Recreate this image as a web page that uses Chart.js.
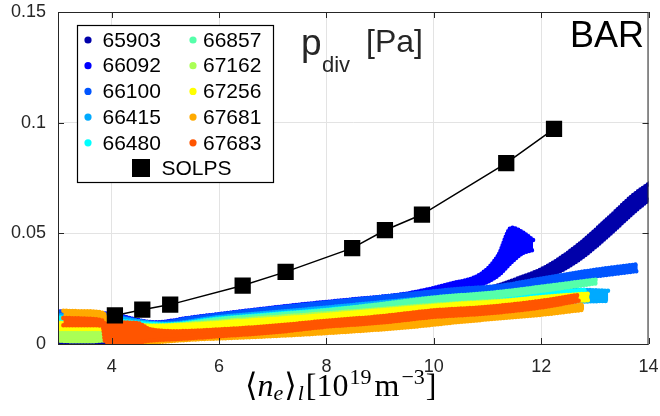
<!DOCTYPE html>
<html>
<head>
<meta charset="utf-8">
<script src="https://cdn.jsdelivr.net/npm/chart.js@4.4.1/dist/chart.umd.min.js"></script>
<style>
  html, body { margin: 0; padding: 0; background: #fff; }
  canvas { display: block; }
</style>
</head>
<body>
<canvas id="pdivChart" width="660" height="416"></canvas>
<script>
// axis ticks
const xTicks = [4, 6, 8, 10, 12, 14];
const yTicks = [0, 0.05, 0.1, 0.15];
const yTickLabels = ['0', '0.05', '0.1', '0.15'];

// shot numbers, in legend order
const shotNames = ['65903', '66092', '66100', '66415', '66480', '66857', '67162', '67256', '67681', '67683'];
const shotColors = ['#0000aa', '#0000ff', '#0055ff', '#00aaff', '#00ffff', '#55ffaa', '#aaff55', '#ffff00', '#ffaa00', '#ff5500'];

// measured p_div clouds: density, lower and upper edge of each shot
const x65903 = [3.0, 4.0, 5.0, 6.0, 7.0, 8.0, 9.0, 10.0, 10.8, 11.5, 12.1, 12.7, 13.3, 13.7, 14.1];
const lo65903 = [0.0005, 0.001, 0.0025, 0.004, 0.0065, 0.0095, 0.012, 0.0155, 0.0205, 0.0255, 0.030, 0.038, 0.050, 0.059, 0.067];
const hi65903 = [0.003, 0.003, 0.0055, 0.007, 0.0095, 0.012, 0.015, 0.019, 0.0235, 0.029, 0.035, 0.045, 0.058, 0.067, 0.074];

const x66092 = [3.0, 4.0, 4.8, 5.5, 6.5, 7.5, 8.5, 9.5, 10.3, 10.9, 11.2, 11.45, 11.65, 11.85];
const lo66092 = [0.0110, 0.0100, 0.0078, 0.0095, 0.0120, 0.0150, 0.0175, 0.0200, 0.0230, 0.0270, 0.0310, 0.0370, 0.0410, 0.0425];
const hi66092 = [0.0148, 0.0135, 0.0098, 0.0120, 0.0150, 0.0178, 0.0202, 0.0228, 0.0272, 0.0320, 0.0400, 0.0525, 0.0505, 0.0470];

const x66100 = [3.0, 4.0, 4.8, 5.5, 6.5, 7.5, 8.5, 9.5, 10.5, 11.2, 12.1, 13.0, 13.8];
const lo66100 = [0.0105, 0.0095, 0.0075, 0.0090, 0.0115, 0.0140, 0.0165, 0.0190, 0.0215, 0.0235, 0.0272, 0.0305, 0.0330];
const hi66100 = [0.0145, 0.0130, 0.0095, 0.0118, 0.0148, 0.0175, 0.0200, 0.0225, 0.0250, 0.0262, 0.0300, 0.0335, 0.0360];

const x66415 = [3.0, 4.0, 5.0, 6.0, 7.0, 8.0, 9.0, 10.0, 11.0, 12.0, 12.7, 13.25];
const lo66415 = [0.0095, 0.0085, 0.0072, 0.0095, 0.0115, 0.0135, 0.0158, 0.0178, 0.0195, 0.0200, 0.0192, 0.0195];
const hi66415 = [0.0130, 0.0120, 0.0092, 0.0122, 0.0143, 0.0165, 0.0188, 0.0210, 0.0225, 0.0240, 0.0245, 0.0240];

const x66480 = [3.0, 4.0, 5.0, 6.0, 7.0, 8.0, 9.0, 10.0, 11.0, 12.0, 12.85];
const lo66480 = [0.0085, 0.0075, 0.0068, 0.0090, 0.0108, 0.0127, 0.0150, 0.0170, 0.0188, 0.0202, 0.0212];
const hi66480 = [0.0120, 0.0108, 0.0088, 0.0115, 0.0135, 0.0155, 0.0177, 0.0198, 0.0215, 0.0232, 0.0245];

const x66857 = [3.0, 4.0, 5.0, 6.0, 7.0, 8.0, 9.0, 10.0, 11.2, 12.1, 13.05];
const lo66857 = [0.0065, 0.0060, 0.0062, 0.0088, 0.0108, 0.0128, 0.0158, 0.0188, 0.0215, 0.0243, 0.0275];
const hi66857 = [0.0098, 0.0088, 0.0085, 0.0112, 0.0132, 0.0152, 0.0180, 0.0210, 0.0235, 0.0262, 0.0292];

const x67162 = [3.0, 3.4, 3.8, 4.2, 4.7, 5.5, 6.5, 7.5, 8.5, 9.5, 10.5, 11.5, 12.5];
const lo67162 = [0.0015, 0.0012, 0.0015, 0.0030, 0.0055, 0.0068, 0.0088, 0.0105, 0.0125, 0.0145, 0.0162, 0.0178, 0.0192];
const hi67162 = [0.0078, 0.0082, 0.0080, 0.0078, 0.0080, 0.0092, 0.0112, 0.0130, 0.0148, 0.0168, 0.0185, 0.0200, 0.0212];

const x67256 = [3.0, 3.6, 4.2, 4.8, 5.5, 6.5, 7.5, 8.5, 9.5, 10.5, 11.2, 12.0, 12.9];
const lo67256 = [0.0068, 0.0068, 0.0065, 0.0060, 0.0065, 0.0082, 0.0098, 0.0118, 0.0138, 0.0158, 0.0168, 0.0185, 0.0198];
const hi67256 = [0.0095, 0.0095, 0.0092, 0.0082, 0.0088, 0.0105, 0.0122, 0.0142, 0.0162, 0.0182, 0.0192, 0.0212, 0.0228];

const x67681 = [3.1, 3.5, 3.85, 3.95, 4.3, 4.7, 5.5, 6.5, 7.5, 8.5, 9.5, 10.5, 11.2, 12.0, 12.8];
const lo67681 = [0.0118, 0.0115, 0.0110, 0.0010, 0.0008, 0.0008, 0.0020, 0.0030, 0.0042, 0.0057, 0.0075, 0.0100, 0.0115, 0.0132, 0.0155];
const hi67681 = [0.0150, 0.0148, 0.0140, 0.0060, 0.0035, 0.0030, 0.0045, 0.0055, 0.0068, 0.0083, 0.0102, 0.0128, 0.0145, 0.0160, 0.0178];

const x67683 = [3.1, 3.5, 3.83, 3.88, 4.2, 4.5, 4.7, 5.2, 6.0, 7.0, 8.0, 9.0, 10.0, 11.0, 12.0, 12.7];
const lo67683 = [0.0085, 0.0085, 0.0082, 0.0010, 0.0008, 0.0008, 0.0015, 0.0022, 0.0035, 0.0052, 0.0078, 0.0096, 0.0122, 0.0138, 0.0165, 0.0195];
const hi67683 = [0.0118, 0.0115, 0.0105, 0.0090, 0.0097, 0.0093, 0.0068, 0.0058, 0.0066, 0.0082, 0.0105, 0.0125, 0.0152, 0.0168, 0.0195, 0.0222];

// SOLPS simulation scan
const solpsX = [4.06, 4.57, 5.09, 6.44, 7.24, 8.48, 9.09, 9.78, 11.35, 12.24];
const solpsY = [0.0129, 0.0155, 0.0178, 0.0264, 0.0326, 0.0433, 0.0514, 0.0585, 0.0817, 0.0972];

const shotBands = [
    [x65903, lo65903, hi65903], [x66092, lo66092, hi66092], [x66100, lo66100, hi66100],
    [x66415, lo66415, hi66415], [x66480, lo66480, hi66480], [x66857, lo66857, hi66857],
    [x67162, lo67162, hi67162], [x67256, lo67256, hi67256], [x67681, lo67681, hi67681],
    [x67683, lo67683, hi67683]
];

const TEXT = '#262626';
const SANS = '"Liberation Sans", Arial, Helvetica, sans-serif';
const SERIF = '"Liberation Serif", "DejaVu Serif", "Times New Roman", serif';

// each shot is a filled band between its lower and upper edge; the edges are
// drawn as rows of round dots so they read like the scattered samples.
// later shots sit on top, like the original plotting order
const datasets = [];
shotBands.forEach(([xs, lo, hi], i) => {
    const common = {
        borderColor: shotColors[i],
        backgroundColor: shotColors[i],
        borderWidth: 4.5,
        borderDash: [0, 3],
        borderCapStyle: 'round',
        borderJoinStyle: 'round',
        pointRadius: 0,
        cubicInterpolationMode: 'monotone',
        order: 10 - i
    };
    datasets.push({ ...common, label: shotNames[i] + ' low', data: xs.map((x, k) => ({ x, y: lo[k] })), fill: false });
    datasets.push({ ...common, label: shotNames[i], data: xs.map((x, k) => ({ x, y: hi[k] })), fill: '-1' });
});

datasets.push({
    label: 'SOLPS',
    data: solpsX.map((x, k) => ({ x, y: solpsY[k] })),
    borderColor: '#000',
    backgroundColor: '#000',
    borderWidth: 1.5,
    pointStyle: 'rect',
    pointRadius: 11.5,
    pointBorderWidth: 0,
    fill: false,
    tension: 0,
    order: 0
});

function drawLegend(ctx) {
    ctx.fillStyle = '#fff';
    ctx.fillRect(77, 25, 196, 157);
    ctx.strokeStyle = '#000';
    ctx.lineWidth = 1.2;
    ctx.strokeRect(77.5, 25.5, 196, 157);

    ctx.font = '21px ' + SANS;
    ctx.textBaseline = 'middle';
    ctx.textAlign = 'left';
    shotNames.forEach((name, i) => {
        const col = i < 5 ? 0 : 1;
        const cy = 40 + (i % 5) * 25.7;
        const mx = col ? 193 : 88;
        const tx = col ? 203 : 102.5;
        ctx.fillStyle = shotColors[i];
        ctx.beginPath();
        ctx.arc(mx, cy, 3.6, 0, Math.PI * 2);
        ctx.fill();
        ctx.fillStyle = '#000';
        ctx.fillText(name, tx, cy + 1);
    });
    ctx.fillStyle = '#000';
    ctx.fillRect(132, 159, 18, 18);
    ctx.fillText('SOLPS', 161.5, 169);
}

function drawTitles(ctx) {
    ctx.textBaseline = 'alphabetic';
    ctx.textAlign = 'left';
    ctx.fillStyle = TEXT;
    ctx.font = '37px ' + SANS;
    ctx.fillText('p', 301, 55);
    ctx.font = '22px ' + SANS;
    ctx.fillText('div', 322, 72);
    ctx.font = '32px ' + SANS;
    ctx.fillText('[Pa]', 366, 52);

    ctx.fillStyle = '#000';
    ctx.textAlign = 'right';
    ctx.font = '36px ' + SANS;
    ctx.fillText('BAR', 644, 47);
}

// <n_e>_l [10^19 m^-3], set piece by piece like the LaTeX original
function drawXLabel(ctx) {
    const big = 32, small = 22, base = 396;
    const pieces = [
        ['\u27E8', big, '', 0, 0],
        ['n', big, 'italic ', 0, 0],
        ['e', small, 'italic ', 4, 1],
        ['\u27E9', big, '', 0, 1],
        ['l', small, 'italic ', 4, 2],
        ['[10', big, '', 0, 1],
        ['19', small, '', -12, 3],
        ['m', big, '', 0, 2],
        ['\u22123', small, '', -12, 1],
        [']', big, '', 0, 0]
    ];
    ctx.fillStyle = '#000';
    ctx.textAlign = 'left';
    ctx.textBaseline = 'alphabetic';
    let x = 245;
    pieces.forEach(([txt, size, style, dy, gap]) => {
        ctx.font = style + size + 'px ' + SERIF;
        ctx.fillText(txt, x, base + dy);
        x += ctx.measureText(txt).width + gap;
    });
}

const frame = {
    id: 'frame',
    afterDraw(chart) {
        const { ctx, chartArea: a, scales } = chart;
        ctx.save();
        ctx.strokeStyle = TEXT;
        ctx.lineWidth = 1;
        ctx.strokeRect(a.left + 0.5, a.top + 0.5, a.right - a.left - 1, a.bottom - a.top);

        // inward tick marks on all four sides
        ctx.beginPath();
        xTicks.forEach(v => {
            const px = Math.round(scales.x.getPixelForValue(v)) + 0.5;
            ctx.moveTo(px, a.bottom); ctx.lineTo(px, a.bottom - 6);
            ctx.moveTo(px, a.top); ctx.lineTo(px, a.top + 6);
        });
        yTicks.forEach(v => {
            const py = Math.round(scales.y.getPixelForValue(v)) + 0.5;
            ctx.moveTo(a.left, py); ctx.lineTo(a.left + 6, py);
            ctx.moveTo(a.right, py); ctx.lineTo(a.right - 6, py);
        });
        ctx.stroke();

        drawLegend(ctx);
        drawTitles(ctx);
        drawXLabel(ctx);
        ctx.restore();
    }
};

new Chart(document.getElementById('pdivChart'), {
    type: 'line',
    data: { datasets },
    options: {
        responsive: false,
        devicePixelRatio: 1,
        animation: false,
        events: [],
        layout: { padding: { top: 12, right: 8, bottom: 0, left: 0 } },
        plugins: {
            legend: { display: false },
            tooltip: { enabled: false }
        },
        scales: {
            x: {
                type: 'linear',
                min: 3,
                max: 14,
                afterBuildTicks: s => { s.ticks = xTicks.map(v => ({ value: v })); },
                afterFit: s => { s.height = 72; s.paddingLeft = 0; s.paddingRight = 0; },
                grid: { color: '#e3e3e3', drawTicks: false },
                border: { display: false },
                ticks: {
                    color: TEXT,
                    font: { family: SANS, size: 18 },
                    padding: 12,
                    maxRotation: 0,
                    autoSkip: false
                }
            },
            y: {
                type: 'linear',
                min: 0,
                max: 0.15,
                afterBuildTicks: s => { s.ticks = yTicks.map(v => ({ value: v })); },
                afterFit: s => { s.width = 58; s.paddingTop = 0; s.paddingBottom = 0; },
                grid: { color: '#e3e3e3', drawTicks: false },
                border: { display: false },
                ticks: {
                    color: TEXT,
                    font: { family: SANS, size: 18 },
                    padding: 12,
                    autoSkip: false,
                    callback: v => yTickLabels[yTicks.indexOf(v)]
                }
            }
        }
    },
    plugins: [frame]
});
</script>
</body>
</html>
